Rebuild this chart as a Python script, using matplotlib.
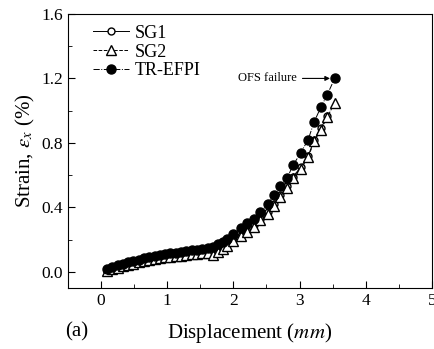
import numpy as np
import matplotlib.pyplot as plt
from matplotlib.ticker import MultipleLocator

plt.rcParams['font.family'] = ['Liberation Serif', 'DejaVu Serif']
plt.rcParams['mathtext.fontset'] = 'stix'

# displacement (mm)
x = [0.09, 0.17, 0.25, 0.33, 0.41, 0.49, 0.57, 0.65, 0.73, 0.81,
     0.89, 0.97, 1.05, 1.13, 1.21, 1.29, 1.37, 1.45, 1.53, 1.61,
     1.69, 1.77, 1.84, 1.90, 2.00, 2.11, 2.21, 2.31, 2.41, 2.52,
     2.61, 2.71, 2.81, 2.90, 3.02, 3.13, 3.22, 3.32, 3.42, 3.53]

# strain (%)
tr_efpi = [0.020, 0.030, 0.040, 0.050, 0.060, 0.068, 0.076, 0.084, 0.092, 0.100,
           0.106, 0.111, 0.115, 0.119, 0.123, 0.128, 0.133, 0.138, 0.143, 0.148,
           0.155, 0.170, 0.185, 0.205, 0.235, 0.270, 0.300, 0.330, 0.370, 0.420,
           0.475, 0.530, 0.580, 0.660, 0.740, 0.820, 0.930, 1.020, 1.100, 1.200]

sg2 = [0.005, 0.015, 0.025, 0.035, 0.043, 0.050, 0.058, 0.066, 0.074, 0.080,
       0.086, 0.090, 0.094, 0.098, 0.101, 0.105, 0.108, 0.112, 0.115, 0.117,
       0.105, 0.120, 0.140, 0.160, 0.190, 0.220, 0.250, 0.280, 0.320, 0.360,
       0.410, 0.465, 0.520, 0.580, 0.640, 0.710, 0.810, 0.880, 0.960, 1.050]

sg1 = [0.008, 0.018, 0.028, 0.038, 0.046, 0.054, 0.062, 0.070, 0.077, 0.083,
       0.089, 0.093, 0.097, 0.101, 0.104, 0.108, 0.111, 0.115, 0.118, 0.120,
       0.110, 0.125, 0.145, 0.165, 0.195, 0.225, 0.255, 0.290, 0.330, 0.370,
       0.420, 0.475, 0.530, 0.590, 0.650, 0.720, 0.815, 0.890, 0.965]

fig = plt.figure(figsize=(4.35, 3.49), dpi=100)
ax = fig.add_axes([0.156, 0.175, 0.837, 0.785])

ax.plot(x[:len(sg1)], sg1, color='black', linestyle='-', linewidth=0.7,
        marker='o', markersize=5, markerfacecolor='white', markeredgewidth=1.0,
        label='SG1')
ax.plot(x, sg2, color='black', linestyle='--', linewidth=0.7,
        marker='^', markersize=6.5, markerfacecolor='white', markeredgewidth=1.0,
        label='SG2')
ax.plot(x, tr_efpi, color='black', linestyle='-.', linewidth=0.7,
        marker='o', markersize=6.5, markerfacecolor='black',
        label='TR-EFPI')

ax.annotate('OFS failure', xy=(3.46, 1.2), xytext=(2.96, 1.2),
            ha='right', va='center', fontsize=9,
            arrowprops=dict(arrowstyle='-|>', color='black', lw=0.8,
                            mutation_scale=7, shrinkA=2, shrinkB=0))

ax.set_xlim(-0.5, 5)
ax.set_ylim(-0.1, 1.6)
ax.xaxis.set_major_locator(MultipleLocator(1))
ax.xaxis.set_minor_locator(MultipleLocator(0.5))
ax.yaxis.set_major_locator(MultipleLocator(0.4))
ax.yaxis.set_minor_locator(MultipleLocator(0.2))
ax.yaxis.set_major_formatter(plt.FormatStrFormatter('%.1f'))
ax.tick_params(direction='in', which='both', labelsize=12.5)
ax.tick_params(which='major', length=5)
ax.tick_params(which='minor', length=3)

ax.set_xlabel('Displacement ($\\mathit{mm}$)', fontsize=15, labelpad=9)
ax.set_ylabel('Strain, $\\varepsilon_x$ (%)', fontsize=15, labelpad=3)

fig.text(0.177, 0.05, '(a)', fontsize=15, ha='center', va='center')

ax.legend(loc='upper left', frameon=False, fontsize=13, handlelength=2.0,
          handletextpad=0.3, labelspacing=0.1, borderaxespad=0.2,
          bbox_to_anchor=(0.04, 1.0))

fig.savefig('out.png', dpi=100)
